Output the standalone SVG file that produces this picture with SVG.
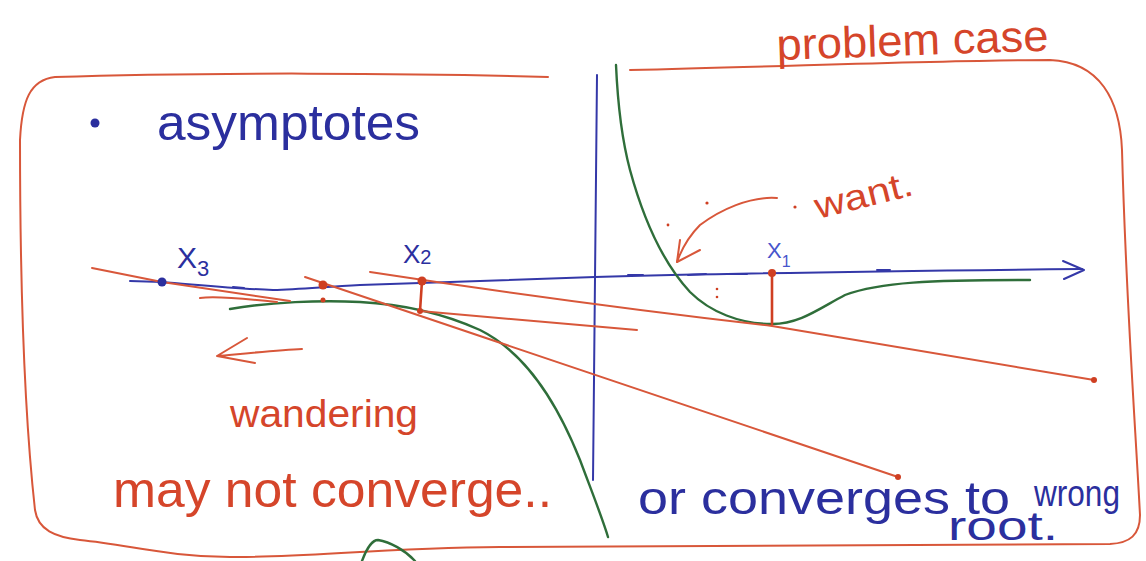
<svg xmlns="http://www.w3.org/2000/svg" width="1146" height="561" viewBox="0 0 1146 561">
<style>
.r{fill:none;stroke:#d8573a;stroke-width:2;stroke-linecap:round;stroke-linejoin:round}
.rb{fill:none;stroke:#cf3f22;stroke-width:2.6;stroke-linecap:round;stroke-linejoin:round}
.b{fill:none;stroke:#3438a8;stroke-width:2;stroke-linecap:round;stroke-linejoin:round}
.g{fill:none;stroke:#2f6e3a;stroke-width:2.4;stroke-linecap:round;stroke-linejoin:round}
.tr{font-family:"Liberation Sans",Arial,sans-serif;fill:#d5452a}
.tb{font-family:"Liberation Sans",Arial,sans-serif;fill:#2b2f9e}
.dr{fill:#cf3f22}
</style>
<rect width="1146" height="561" fill="#ffffff"/>
<g id="frame">
<path class="r" d="M548,77 C420,73 200,72 55,77 C30,80 22,100 20,140 C20,300 25,420 35,510 C38,530 55,537 80,540 C130,545 170,557 230,557 C300,558 380,548 500,547 L1110,544 C1130,543 1140,535 1140,515 C1135,420 1126,300 1122,150 C1120,100 1100,62 1050,60 C950,60 800,66 630,70"/>
</g>
<g id="axes">
<path class="b" d="M597,75 C596,200 595,300 594,380 L593,480"/>
<path class="b" d="M130,281 L162,282 C200,285 240,289 273,290 C300,289 323,287 360,285 L450,282 C520,280 560,278 595,277 C700,274 800,272 1082,269"/>
<path class="b" d="M1063,261 L1084,270 L1064,279"/>
<path class="b" stroke-width="3.5" d="M233,287 L244,288 M628,275 L643,275 M688,275 L706,274 M730,274 L747,274 M877,270 L890,270"/>
</g>
<g id="curves">
<path class="g" d="M230,309 C270,302 320,300 360,302 C400,304 440,312 480,330 C530,355 560,410 580,460 C595,500 603,520 608,537"/>
<path class="g" d="M616,65 C618,110 622,140 630,170 C645,225 665,265 690,292 C710,312 740,324 772,324 C800,324 820,308 845,295 C880,282 930,280 1030,280"/>
<path class="g" d="M362,561 C366,550 372,540 378,540 C390,542 405,550 415,561"/>
</g>
<g id="tangents">
<path class="r" d="M92,268 L162,282 L290,301"/>
<path class="r" d="M200,298 C215,296 240,298 277,302"/>
<path class="r" d="M305,277 L898,477"/>
<path class="r" d="M370,272 C520,295 650,312 772,326 L1094,380"/>
<path class="r" d="M420,311 L637,330"/>
<circle class="dr" cx="898" cy="477" r="3"/>
<circle class="dr" cx="1094" cy="380" r="3"/>
</g>
<g id="iterates">
<circle cx="162" cy="282" r="4.5" fill="#2b2f9e"/>
<circle class="dr" cx="323" cy="285" r="4.5"/>
<circle class="dr" cx="323" cy="300" r="2.5"/>
<path class="rb" d="M422,281 L420,311"/>
<circle class="dr" cx="422" cy="281" r="4.5"/>
<circle class="dr" cx="420" cy="311" r="3"/>
<path class="rb" d="M772,273 L772,324"/>
<circle class="dr" cx="772" cy="273" r="4"/>
<text class="tb" x="177" y="268" font-size="30">X<tspan font-size="22" dy="8">3</tspan></text>
<text class="tb" x="403" y="263" font-size="26">X<tspan font-size="20" dy="1">2</tspan></text>
<text class="tb" x="767" y="258" font-size="22" style="fill:#4755cc">X<tspan font-size="16" dy="9">1</tspan></text>
</g>
<g id="want">
<path class="r" d="M777,198 C750,196 720,210 700,225 C690,235 682,248 677,262"/>
<path class="r" d="M680,240 L677,262 L700,250"/>
<circle class="dr" cx="707" cy="203" r="1.6"/>
<circle class="dr" cx="795" cy="207" r="1.6"/>
<circle class="dr" cx="668" cy="225" r="1.4"/>
<circle class="dr" cx="717" cy="289" r="1.3"/>
<circle class="dr" cx="717" cy="297" r="1.3"/>
<text class="tr" x="818" y="219" font-size="36" textLength="100" lengthAdjust="spacingAndGlyphs" transform="rotate(-14 818 219)">want.</text>
</g>
<g id="labels">
<text class="tr" x="777" y="60" font-size="44" textLength="272" lengthAdjust="spacingAndGlyphs" transform="rotate(-2 777 60)">problem case</text>
<circle cx="95" cy="123" r="4.5" fill="#2b2f9e"/>
<text class="tb" x="157" y="140" font-size="50" textLength="263" lengthAdjust="spacingAndGlyphs">asymptotes</text>
<path class="r" stroke-width="2.4" d="M302,349 C280,350 250,353 217,356 M247,338 L217,356 L255,363"/>
<text class="tr" x="230" y="427" font-size="38" textLength="188" lengthAdjust="spacingAndGlyphs">wandering</text>
<text class="tr" x="113" y="507" font-size="50" textLength="439" lengthAdjust="spacingAndGlyphs">may not converge..</text>
<text class="tb" font-size="46"><tspan x="638" y="514" textLength="372" lengthAdjust="spacingAndGlyphs">or converges to</tspan><tspan x="1034" y="506" font-size="36" textLength="86" lengthAdjust="spacingAndGlyphs">wrong</tspan></text>
<text class="tb" x="948" y="540" font-size="40" textLength="110" lengthAdjust="spacingAndGlyphs">root.</text>
</g>
</svg>
